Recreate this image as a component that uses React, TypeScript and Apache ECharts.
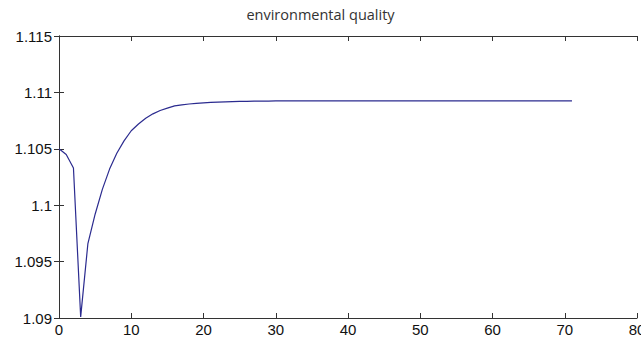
import React, { useEffect, useRef } from "react";
import * as echarts from "echarts";

const titleText = "environmental quality";
const xValues: number[] = [
  0, 1, 2, 3, 4, 5, 6, 7, 8, 9, 10, 11, 12, 13, 14, 15, 16, 17, 18, 19, 20,
  21, 22, 23, 24, 25, 26, 27, 28, 29, 30, 31, 32, 33, 34, 35, 36, 37, 38, 39,
  40, 41, 42, 43, 44, 45, 46, 47, 48, 49, 50, 51, 52, 53, 54, 55, 56, 57, 58,
  59, 60, 61, 62, 63, 64, 65, 66, 67, 68, 69, 70, 71,
];
const quality: number[] = [
  1.105, 1.1045, 1.1033, 1.0901, 1.0966, 1.0992, 1.1014, 1.1032, 1.1046,
  1.1057, 1.1066, 1.1072, 1.1077, 1.1081, 1.1084, 1.1086, 1.1088, 1.1089,
  1.10897, 1.10903, 1.10908, 1.10911, 1.10914, 1.10916, 1.10918, 1.1092,
  1.10921, 1.10922, 1.10923, 1.10923, 1.10924, 1.10924, 1.10924, 1.10925,
  1.10925, 1.10925, 1.10925, 1.10925, 1.10925, 1.10925, 1.10925, 1.10925,
  1.10925, 1.10925, 1.10925, 1.10925, 1.10925, 1.10925, 1.10925, 1.10925,
  1.10925, 1.10925, 1.10925, 1.10925, 1.10925, 1.10925, 1.10925, 1.10925,
  1.10925, 1.10925, 1.10925, 1.10925, 1.10925, 1.10925, 1.10925, 1.10925,
  1.10925, 1.10925, 1.10925, 1.10925, 1.10925, 1.10925,
];
const yTickLabels: string[] = ["1.09", "1.095", "1.1", "1.105", "1.11", "1.115"];

export default function App() {
  const ref = useRef<HTMLDivElement>(null);
  useEffect(() => {
    if (!ref.current) return;
    const chart = echarts.init(ref.current, undefined, { renderer: "svg" });
    const axisLine = { show: true, lineStyle: { color: "#333", width: 1 } };
    const tick = { show: true, inside: true, length: 5, lineStyle: { color: "#333" } };
    const label = {
      color: "#111",
      fontSize: 15,
      fontFamily: "Liberation Sans, Arial, sans-serif",
    };
    chart.setOption({
      animation: false,
      backgroundColor: "#fff",
      title: {
        text: titleText,
        left: "center",
        top: 2,
        textStyle: {
          fontSize: 14.5,
          fontWeight: "normal",
          color: "#333",
          fontFamily: "Open Sans, DejaVu Sans, sans-serif",
        },
      },
      grid: {
        left: 59,
        right: 4,
        top: 36,
        bottom: 25,
        containLabel: false,
        outerBoundsMode: "none",
      },
      xAxis: [
        {
          type: "value",
          min: 0,
          max: 80,
          interval: 10,
          position: "bottom",
          axisLine,
          axisTick: tick,
          splitLine: { show: false },
          axisLabel: { ...label, margin: 4 },
        },
        {
          type: "value",
          min: 0,
          max: 80,
          interval: 10,
          position: "top",
          axisLine,
          axisTick: tick,
          splitLine: { show: false },
          axisLabel: { show: false },
        },
      ],
      yAxis: [
        {
          type: "value",
          min: 1.09,
          max: 1.115,
          interval: 0.005,
          position: "left",
          axisLine,
          axisTick: tick,
          splitLine: { show: false },
          axisLabel: {
            ...label,
            margin: 7,
            formatter: (v: number) => {
              const i = Math.round((v - 1.09) / 0.005);
              return yTickLabels[i] ?? "";
            },
          },
        },
        {
          type: "value",
          min: 1.09,
          max: 1.115,
          interval: 0.005,
          position: "right",
          axisLine,
          axisTick: tick,
          splitLine: { show: false },
          axisLabel: { show: false },
        },
      ],
      series: [
        {
          type: "line",
          data: xValues.map((x, i) => [x, quality[i]]),
          showSymbol: false,
          symbol: "none",
          lineStyle: { color: "#2b2b8f", width: 1.2 },
          clip: false,
        },
      ],
    });
    return () => chart.dispose();
  }, []);
  return <div ref={ref} style={{ width: 641, height: 343, position: "absolute", left: 0, top: 0 }} />;
}
